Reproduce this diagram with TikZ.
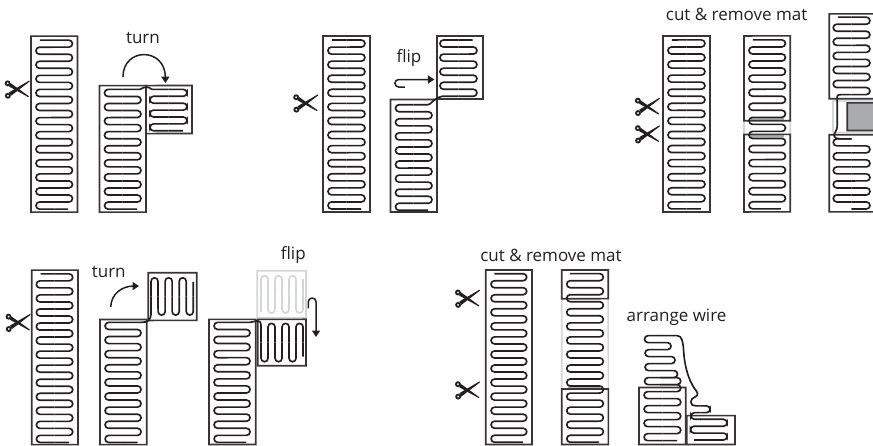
\documentclass[tikz,border=0pt]{standalone}
\usepackage{fontspec}
\setmainfont{Open Sans}
\usetikzlibrary{arrows.meta}
\definecolor{ink}{HTML}{231F20}
\definecolor{ghost}{HTML}{D4D5D6}
\definecolor{mat}{HTML}{A9ABAE}
\tikzset{
  wire/.style={draw=ink,line width=1.65pt,rounded corners=3.5pt},
  wireplain/.style={draw=ink,line width=1.65pt},
  panel/.style={draw=ink!90,line width=1.7pt},
  lightpanel/.style={draw=ghost,line width=1.7pt},
  label/.style={font=\fontsize{17}{20}\selectfont,text=ink,inner sep=0pt},
  tool/.style={draw=ink,line width=1.5pt,-{Triangle[width=8pt,length=6.5pt]}}
}
% xL xR y0 pitch n side xstart xend [colour style]
\newcommand\serpc[9]{%
  \pgfmathsetmacro\xmid{(#1+#2)/2}%
  \pgfmathtruncatemacro\kmax{#5-2}%
  \pgfmathsetmacro\ylast{#3+(#5-1)*#4}%
  \foreach \k in {0,...,\kmax}{%
    \pgfmathsetmacro\ya{#3+\k*#4}%
    \pgfmathsetmacro\yb{\ya+#4}%
    \pgfmathtruncatemacro\sd{mod(\k+#6,2)}%
    \ifnum\sd=0 \def\xs{#2}\else\def\xs{#1}\fi
    \draw[wire,#9] (\xmid,\ya) -- (\xs,\ya) -- (\xs,\yb) -- (\xmid,\yb);
  }%
  \draw[wireplain,#9] (#7,#3) -- (\xmid,#3);
  \draw[wireplain,#9] (\xmid,\ylast) -- (#8,\ylast);
}
\newcommand\serp[8]{\serpc{#1}{#2}{#3}{#4}{#5}{#6}{#7}{#8}{}}
% scissors at a centre
\newcommand\snip[2]{%
  \begin{scope}[shift={(#1,#2)}]
    \fill[ink] (12.8,-8.6) -- (-7.4,3.2) -- (-5.4,6.6) -- (13.2,-7.6) -- cycle;
    \fill[ink] (12.6,7.2) -- (-5.8,-6.0) -- (-7.6,-2.8) -- (11.8,8.0) -- cycle;
    \draw[ink,line width=1.8pt] (-8.6,6.6) circle[radius=2.0pt];
    \draw[ink,line width=1.8pt] (-8.8,-5.8) circle[radius=2.0pt];
  \end{scope}}
\newcommand\rbox[4]{\draw[panel] (#1,#2) rectangle (#3,#4);}
\begin{document}
\begin{tikzpicture}[x=1pt,y=-1pt]
\useasboundingbox (0,0) rectangle (873,445);
\clip (0,0) rectangle (873,445);
\begin{scope}[rotate around={0.02:(436,222)}]
% ---------- top row
\rbox{31}{36}{77.5}{212}
\serp{36}{72.5}{40}{7.04}{25}{0}{40}{68}
\snip{16.5}{89}
\rbox{99.5}{85.5}{146}{212}
\serp{104.5}{141}{89.3}{7.04}{18}{1}{140}{137}
\rbox{146}{85.5}{192}{133.5}
\serp{150}{187}{89.3}{6.9}{7}{0}{152}{183}
\draw[wireplain] (140,89.3) .. controls (145,86.2) and (148,86.2) .. (152,89.3);
\node[label] (turnA) at (143,38) {turn};
\coordinate (turnAs) at (123,77);
\coordinate (turnAe) at (165.5,83);
\draw[tool] (turnAs) .. controls (123,47) and (165,47) .. (turnAe);
% flip
\rbox{323}{36}{370}{212}
\serp{328}{365}{40}{7.04}{25}{0}{332}{361}
\snip{305}{103}
\rbox{390.5}{99.5}{437}{212}
\serp{395.5}{432}{104.7}{7.04}{16}{1}{428}{428}
\rbox{437}{36}{483}{99}
\serp{440}{477}{40}{7.04}{9}{1}{472.7}{442}
\draw[wireplain] (428,104.7) .. controls (431.5,104.7) and (432,99) .. (442,96.3);
\node[label] (flipA) at (409,58) {flip};
\coordinate (flipAs) at (405,87);
\coordinate (flipAe) at (434.5,79.5);
\draw[tool,rounded corners=3.7pt] (flipAs) -- (395,87) -- (395,79.5) -- (flipAe);
% cut and remove
\node[label] (cutA) at (736.7,15) {cut \& remove mat};
\rbox{663}{36}{710}{212}
\serp{668}{705}{40}{7.04}{25}{0}{672}{701}
\snip{646.7}{106.5}
\snip{646.7}{134}
\fill[mat] (751,118) rectangle (784,121);
\fill[mat] (751,134.5) rectangle (784,137.5);
\draw[lightpanel] (744,121) -- (744,134.5);
\draw[lightpanel] (790.3,121) -- (790.3,134.5);
\rbox{744}{36}{790.3}{120.8}
\rbox{744}{134.5}{790.3}{212}
\serp{749}{785.5}{40}{7.04}{25}{0}{753}{781}
% partly out of frame
\draw[lightpanel] (833,101) rectangle (880,132.5);
\draw[panel,fill=mat] (847.3,103) rectangle (880,130.7);
\rbox{829.3}{14}{880}{98.8}
\rbox{829.3}{134.8}{880}{212}
\serp{833.3}{870}{17.3}{7.04}{12}{0}{838}{841}
\serp{833.3}{870}{139}{7.01}{11}{1}{841}{866}
\draw[wireplain] (841,94.74) .. controls (836,94.74) and (837.3,97) .. (837.3,101) -- (837.3,125) .. controls (837.3,132) and (834,132) .. (834,135) .. controls (834,138) and (837,139) .. (841,139);
% ---------- bottom row
\rbox{31.7}{270}{78}{444.5}
\serp{36.3}{72.7}{273.7}{7.025}{25}{0}{40.7}{69}
\snip{17.3}{322.3}
\rbox{100}{319.3}{146.7}{444.5}
\serp{105}{141}{322.3}{7.06}{18}{1}{141}{137.5}
\rbox{148.3}{272.7}{196.7}{320.3}
\begin{scope}[x={(0pt,-1pt)},y={(1pt,0pt)}]
  \serp{277.7}{315}{151}{7.04}{7}{1}{314}{281.7}
\end{scope}
\draw[wireplain] (141,322.3) .. controls (148,322.3) and (150.6,320) .. (151,314);
\node[label] (turnB) at (108.7,271.7) {turn};
\coordinate (turnBs) at (110.7,306.7);
\coordinate (turnBe) at (139,286);
\draw[tool] (turnBs) .. controls (111,294) and (122,286) .. (turnBe);
% third group
\rbox{209}{319.3}{255.7}{444.5}
\serp{214}{250}{322.3}{7.06}{18}{1}{250}{246}
\draw[lightpanel] (257.3,270.7) rectangle (306,317.7);
\begin{scope}[x={(0pt,-1pt)},y={(1pt,0pt)}]
  \serpc{275.7}{313}{261}{7}{7}{1}{312}{279}{draw=ghost}
\end{scope}
\rbox{257.7}{319.3}{306}{365.7}
\begin{scope}[x={(0pt,-1pt)},y={(1pt,0pt)}]
  \serp{323.3}{361.7}{261}{7}{7}{0}{326}{356.7}
\end{scope}
\draw[wireplain] (250,322.3) .. controls (254,322.3) and (261,317) .. (261,326);
\node[label] (flipB) at (293.3,255) {flip};
\coordinate (flipBs) at (308.3,308.3);
\coordinate (flipBe) at (316,337);
\draw[tool,rounded corners=3.7pt] (flipBs) -- (308.3,298) -- (316,298) -- (flipBe);
% cut and remove, lower
\node[label] (cutB) at (551,255) {cut \& remove mat};
\rbox{485.7}{270}{532}{444.5}
\serp{491}{526.7}{273.7}{7.025}{25}{0}{494.3}{523}
\snip{466.7}{298.3}
\snip{466.7}{390}
\fill[mat] (568,386) rectangle (600,389);
\draw[lightpanel] (561.7,298.7) -- (561.7,389);
\draw[lightpanel] (608.3,298.7) -- (608.3,389);
\rbox{561.7}{270}{608.3}{298.7}
\rbox{561.7}{389}{608.3}{444.5}
\serp{566.7}{603.3}{273.7}{7.025}{25}{0}{570}{599}
% arrange wire
\node[label] (arr) at (676.5,317) {arrange wire};
\rbox{639}{387.5}{685.7}{444.5}
\rbox{686.7}{415.7}{735}{444.5}
\serp{644}{680.7}{384.7}{7.0}{9}{0}{660}{677}
\foreach \ya/\xs in {335.7/644.5,349.7/645,363.7/645,377.7/644.5}{
  \pgfmathsetmacro\yb{\ya+7}
  \draw[wire] (660,\ya) -- (\xs,\ya) -- (\xs,\yb) -- (660,\yb);}
\foreach \ya/\xs in {342.7/671,356.7/675,370.7/677.5}{
  \pgfmathsetmacro\yb{\ya+7}
  \draw[wire] (660,\ya) -- (\xs,\ya) -- (\xs,\yb) -- (660,\yb);}
\draw[wire] (660,377.7) -- (680.7,377.7) -- (680.7,384.7) -- (660,384.7);
\draw[wireplain] (660,335.7) -- (677,335.7) .. controls (682,335.7) and (683,342) .. (683.5,350) .. controls (684.5,368) and (689,380) .. (694,388) .. controls (698,393) and (698.5,394.5) .. (696,396.5) .. controls (692,398.5) and (690.7,400) .. (690.7,402) .. controls (690.7,405) and (693,406) .. (696,406);
\serp{691}{710}{406}{6.7}{3}{0}{696}{700}
\serp{690.5}{727}{419.4}{6.9}{4}{0}{700}{694}
\end{scope}
\end{tikzpicture}
\end{document}
